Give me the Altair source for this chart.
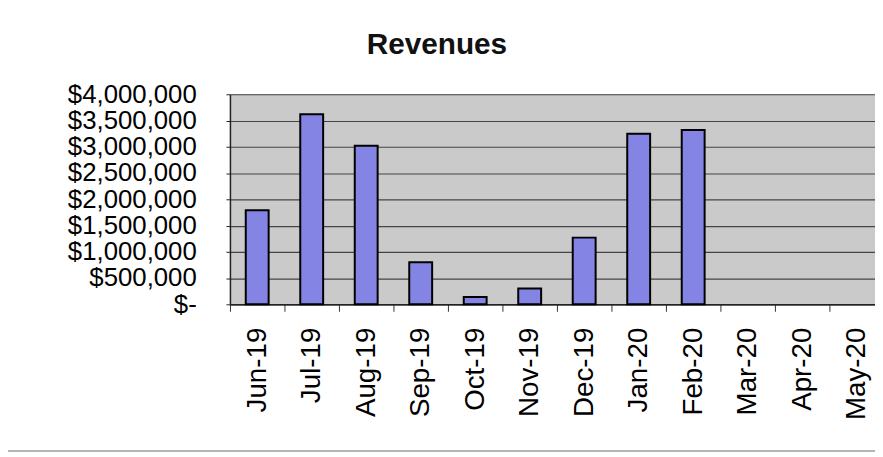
import altair as alt
import pandas as pd

months = ["Jun-19", "Jul-19", "Aug-19", "Sep-19", "Oct-19", "Nov-19",
          "Dec-19", "Jan-20", "Feb-20", "Mar-20", "Apr-20", "May-20"]
revenues = [1790000, 3620000, 3020000, 800000, 140000, 300000,
            1270000, 3250000, 3320000, None, None, None]
y_ticks = [0, 500000, 1000000, 1500000, 2000000, 2500000, 3000000, 3500000, 4000000]

df = pd.DataFrame({"Month": months, "Revenue": revenues})

FONT = "Liberation Sans"

bars = alt.Chart(df).mark_bar(
    fill="#8484e4", stroke="black", strokeWidth=2,
    width=alt.RelativeBandSize(0.42)
).encode(
    x=alt.X("Month:N", sort=months,
            scale=alt.Scale(paddingInner=0, paddingOuter=0),
            axis=alt.Axis(title=None, labelAngle=270, labelAlign="right",
                          labelBaseline="middle", labelFontSize=28,
                          labelColor="black", labelPadding=16, tickSize=7,
                          tickColor="#333333", tickBand="extent",
                          domainColor="#222222", domainWidth=1.5,
                          labelFont=FONT, grid=False)),
    y=alt.Y("Revenue:Q", scale=alt.Scale(domain=[0, 4000000], nice=False),
            axis=alt.Axis(title=None, values=y_ticks, labelFontSize=26,
                          labelColor="black", labelFont=FONT,
                          labelExpr="datum.value == 0 ? '$-' : '$' + format(datum.value, ',')",
                          labelOverlap=False, labelPadding=30, tickSize=4,
                          tickColor="#222222", domainColor="#222222",
                          domainWidth=1.5, grid=True, gridColor="#444444",
                          gridWidth=1.2)),
)

border = alt.Chart(df).mark_rule(color="#b5b5b5", strokeWidth=2).encode(
    x=alt.value(-224), x2=alt.value(660), y=alt.value(360)
)

chart = alt.layer(bars, border).properties(
    width=660, height=212,
    background="white",
    title=alt.TitleParams("Revenues", fontSize=30, fontWeight="bold", font=FONT,
                          color="#111111", anchor="start", frame="group",
                          dx=138, offset=22),
    autosize=alt.AutoSizeParams(type="none"),
    padding={"left": 224, "top": 85, "right": -9, "bottom": 150},
).configure_view(fill="#cacaca", stroke=None)

chart.save("out.html", embed_options={"renderer": "svg", "actions": False})
